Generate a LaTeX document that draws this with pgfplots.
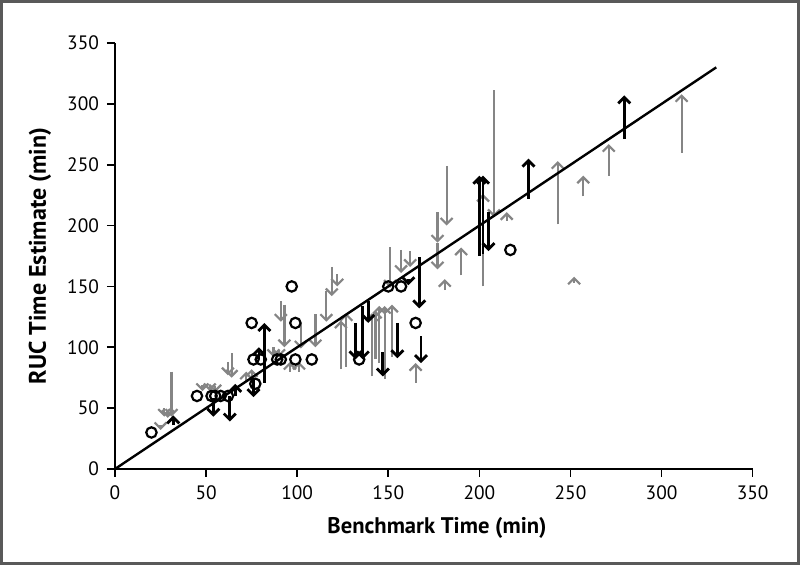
\documentclass[border=0pt]{standalone}
\usepackage{pgfplots}
\pgfplotsset{compat=1.18}
\usepackage{pgfplotstable}
\usepackage{fontspec}
\setmainfont{PT Sans}
\usetikzlibrary{arrows.meta}

\pgfplotstableread{
x y v
25 36 -4
27 50 -7
29 47 -5
31 80 -37
48 69 -5
52 69 -5
55 68 -5
62 88 -11
64 95 -20
72 72 8
75 74 8
87 100 -8
90 98 -6
91 138 -17
93 135 -35
96 80 8
101 80 8
102 120 -21
110 127 -27
116 146 -25
119 166 -24
122 160 -10
124 82 40
127 84 44
141 76 52
143 90 40
145 87 47
148 74 60
152 92 43
151 182 -33
157 180 -19
162 179 -13
165 71 16
177 211 -25
177 186 -22
181 147 9
182 249 -49
190 159 23
202 150 76
208 311 -104
215 204 7
243 201 52
252 153 5
257 224 17
271 241 26
311 260 48
}\greydata

\pgfplotstableread{
x y v
32 36 8
54 58 -15
63 60 -21
66 60 10
76 75 -16
79 90 10
82 71 49
132 120 -30
136 134 -44
139 138 -18
147 96 -20
155 120 -29
161 156 -5
167 174 -42
168 109 -22
200 175 66
202 177 64
205 211 -32
227 222 33
279.5 271 36
}\blackdata

\pgfplotstableread{
x y
20 30
45 60
53 60
55 60
58 60
62 60
77 70
75 120
76 90
80 90
89 90
91 90
99 90
108 90
97 150
99 120
134 90
150 150
157 150
165 120
217 180
}\circdata

\begin{document}
\begin{tikzpicture}
\begin{axis}[
  anchor=origin, at={(0pt,0pt)},
  x=0.911pt, y=0.6085pt,
  xmin=0, xmax=350, ymin=0, ymax=350,
  axis x line*=bottom, axis y line*=left,
  axis line style={line width=0.8pt, -},
  xtick={0,50,...,350}, ytick={0,50,...,350},
  tick align=outside, major tick length=4pt,
  tick style={line width=0.8pt, black},
  tick label style={font=\fontsize{9.7}{11}\selectfont},
  /pgf/number format/assume math mode=true,
  xticklabel style={yshift=-1pt},
  yticklabel style={xshift=-0.5pt},
  clip=false,
  xlabel={\textbf{Benchmark Time (min)}},
  ylabel={\textbf{RUC Time Estimate (min)}},
  every axis x label/.style={at={(axis description cs:0.505,-0.1385)}, anchor=center, font=\fontsize{11.3}{13}\selectfont},
  every axis y label/.style={at={(axis description cs:-0.1176,0.5)}, anchor=center, rotate=90, font=\fontsize{12}{14}\selectfont},
]
\addplot[black!48, line width=1.1pt, quiver={u=0, v=\thisrow{v}}, -{Straight Barb[length=3pt, width=6pt]}] table[x=x, y=y] {\greydata};
\addplot[black, line width=1.2pt] coordinates {(0,0) (330,330)};
\addplot[black, line width=1.4pt, quiver={u=0, v=\thisrow{v}}, -{Straight Barb[length=3pt, width=6pt]}] table[x=x, y=y] {\blackdata};
\addplot[only marks, black, mark=o, mark size=2.6pt, mark options={line width=1.1pt}] table[x=x, y=y] {\circdata};
\end{axis}
\pgfresetboundingbox
\useasboundingbox (-57.5pt,-48pt) rectangle (342.5pt,234.5pt);
\draw[line width=1.5pt, black!65] (-56.75pt,-47.25pt) rectangle (341.75pt,233.75pt);
\end{tikzpicture}
\end{document}
